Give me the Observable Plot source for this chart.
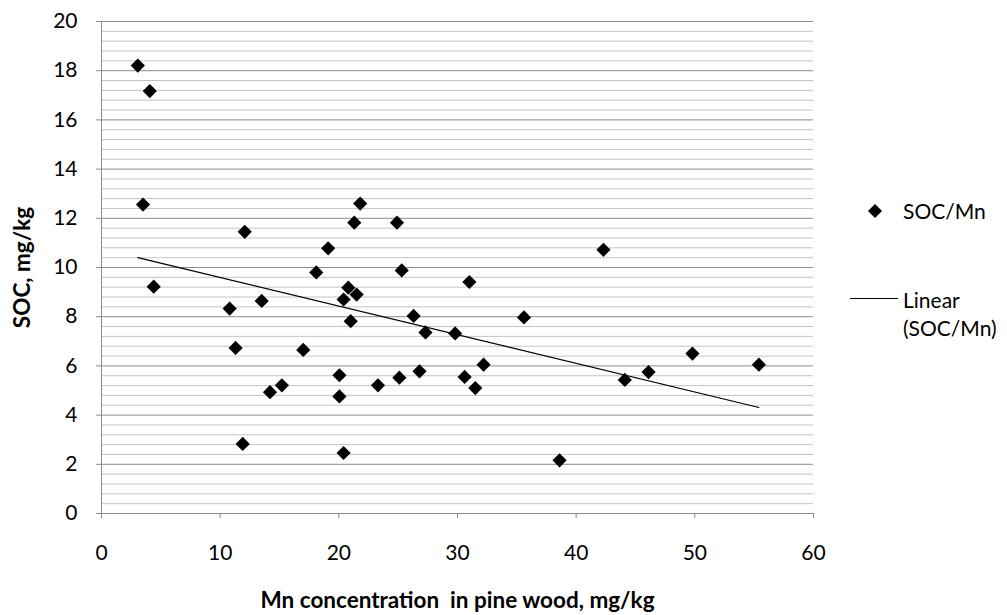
<!DOCTYPE html>
<html>
<head>
<meta charset="utf-8">
<script src="https://cdn.jsdelivr.net/npm/d3@7"></script>
<script src="https://cdn.jsdelivr.net/npm/@observablehq/plot@0.6"></script>
<style>
  html, body { margin: 0; padding: 0; background: #fff; }
  #wrap { position: relative; width: 1007px; height: 615px; font-family: Lato, "Open Sans", sans-serif; }
  #legend { position: absolute; left: 0; top: 0; width: 1007px; height: 615px; pointer-events: none; }
  .lg { position: absolute; font-size: 21px; color: #000; line-height: 28px; white-space: nowrap; }
</style>
</head>
<body>
<div id="wrap">
  <div id="chart"></div>
  <div id="legend">
    <svg style="position:absolute;left:868px;top:204px" width="14" height="14"><path d="M7,0L14,7L7,14L0,7Z" fill="#000"/></svg>
    <div class="lg" style="left:903px;top:197px">SOC/Mn</div>
    <svg style="position:absolute;left:850px;top:297px" width="48" height="3"><line x1="0" y1="1.5" x2="48" y2="1.5" stroke="#000" stroke-width="1.2"/></svg>
    <div class="lg" style="left:903px;top:286px">Linear<br>(SOC/Mn)</div>
  </div>
</div>
<script>
// Mn concentration in pine wood, mg/kg
const mn = [3.06, 4.07, 3.5, 4.4, 10.8, 11.3, 11.9, 12.07, 13.5, 14.2, 15.2, 17.0, 18.1, 19.1,
  20.05, 20.05, 20.4, 20.4, 20.8, 21.0, 21.3, 21.5, 21.8, 23.3, 24.9, 25.1, 25.3, 26.3, 26.8,
  27.3, 29.8, 30.6, 31.0, 31.5, 32.2, 35.6, 38.6, 42.3, 44.1, 46.1, 49.8, 55.4];
// SOC, mg/kg
const soc = [18.21, 17.17, 12.56, 9.22, 8.33, 6.73, 2.83, 11.45, 8.64, 4.93, 5.21, 6.65, 9.8, 10.78,
  5.62, 4.76, 8.70, 2.46, 9.18, 7.82, 11.82, 8.9, 12.6, 5.21, 11.82, 5.52, 9.88, 8.03, 5.78,
  7.36, 7.32, 5.55, 9.41, 5.10, 6.05, 7.97, 2.16, 10.72, 5.43, 5.75, 6.5, 6.05];
// Linear trend endpoints
const trendX = [3.06, 55.4];
const trendY = [10.40, 4.31];
// Tick labels
const xTicks = [0, 10, 20, 30, 40, 50, 60];
const yTicks = [0, 2, 4, 6, 8, 10, 12, 14, 16, 18, 20];

const points = mn.map((x, i) => ({x, y: soc[i]}));
const trend = trendX.map((x, i) => ({x, y: trendY[i]}));
const minor = d3.range(0, 20.001, 0.4).filter(v => Math.abs(v / 2 - Math.round(v / 2)) > 1e-6);

const chart = Plot.plot({
  width: 1007,
  height: 615,
  marginLeft: 101,
  marginRight: 194,
  marginTop: 21,
  marginBottom: 102,
  style: {fontFamily: "Lato, 'Open Sans', sans-serif", fontSize: "21px", color: "#000", background: "#fff"},
  x: {domain: [0, 60]},
  y: {domain: [0, 20]},
  marks: [
    Plot.ruleY(minor, {stroke: "#c4c4c4", strokeWidth: 1}),
    Plot.ruleY(yTicks, {stroke: "#8c8c8c", strokeWidth: 1}),
    Plot.ruleX([0], {stroke: "#8c8c8c", strokeWidth: 1}),
    Plot.axisY({ticks: yTicks, tickSize: 5, tickPadding: 19, stroke: "#8c8c8c", label: null, fontSize: 21}),
    Plot.axisX({ticks: xTicks, tickSize: 5, tickPadding: 27, stroke: "#8c8c8c", label: null, fontSize: 21}),
    Plot.text(["SOC, mg/kg"], {frameAnchor: "left", dx: -79, rotate: -90, textAnchor: "middle", lineAnchor: "middle", fontWeight: "bold", fontSize: 22.5}),
    Plot.text(["Mn concentration  in pine wood, mg/kg"], {frameAnchor: "bottom", dy: 87, dx: 0, textAnchor: "middle", lineAnchor: "middle", fontWeight: "bold", fontSize: 22.5}),
    Plot.line(trend, {x: "x", y: "y", stroke: "#000", strokeWidth: 1.2}),
    Plot.dot(points, {x: "x", y: "y", symbol: "diamond2", r: 6.4, fill: "#000", stroke: "none"})
  ]
});
document.getElementById("chart").appendChild(chart);
</script>
</body>
</html>
